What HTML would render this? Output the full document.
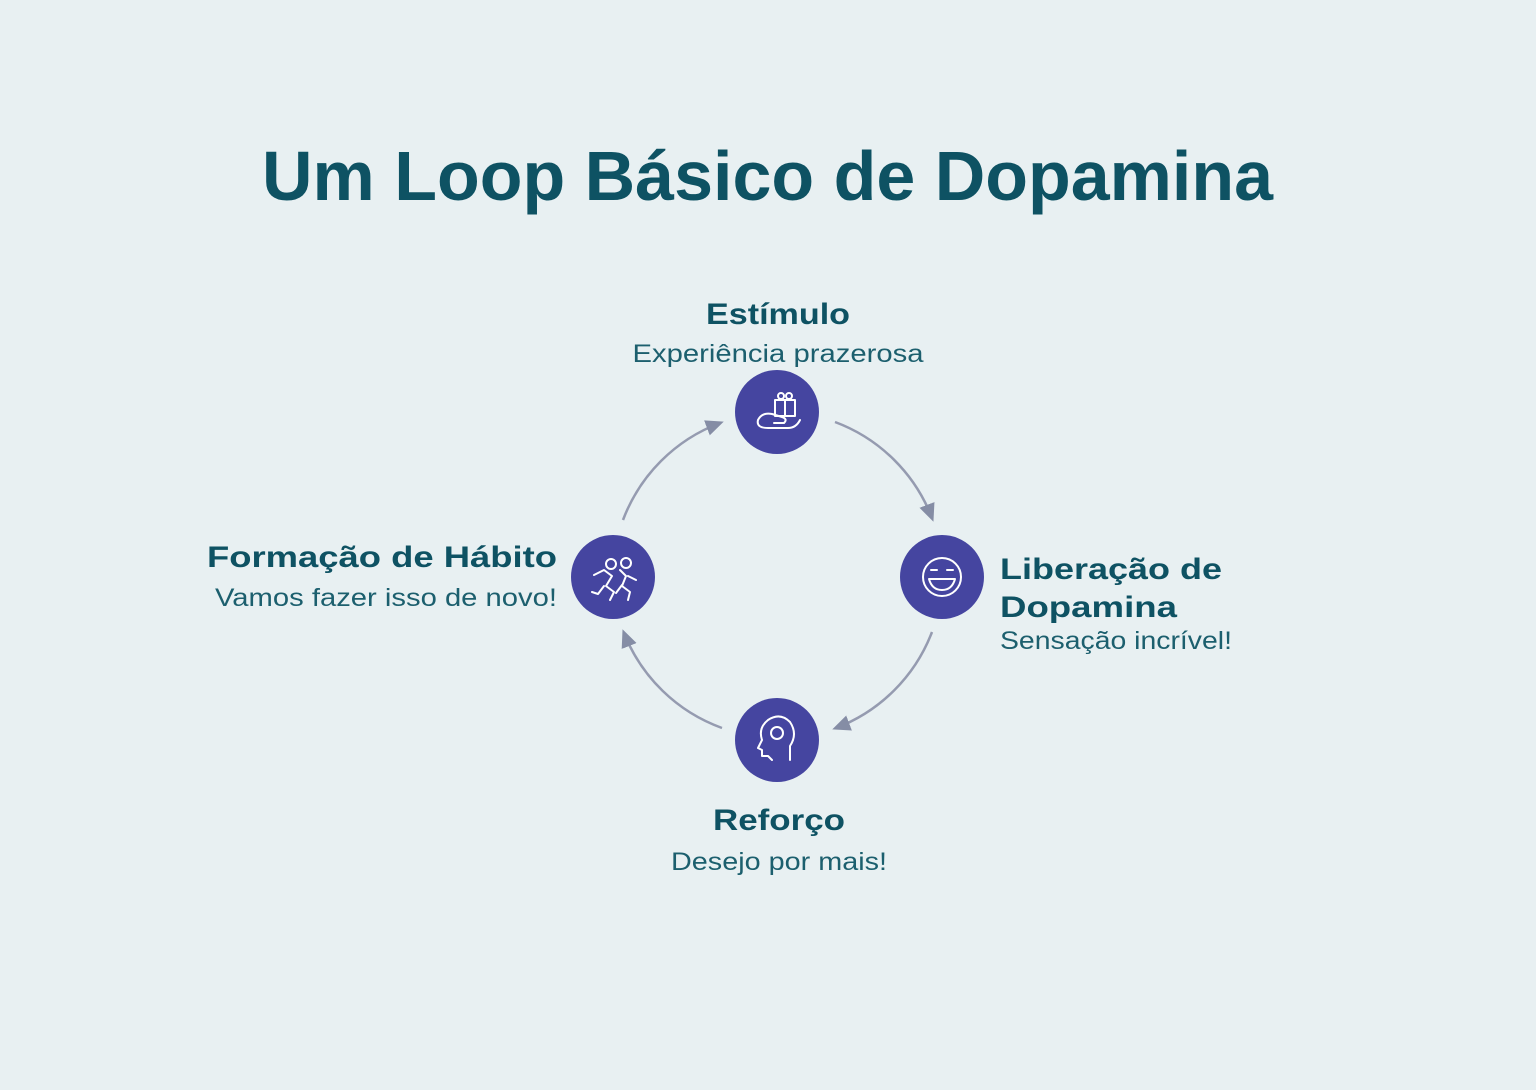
<!DOCTYPE html>
<html><head><meta charset="utf-8"><style>
html,body{margin:0;padding:0;background:#E8F0F2;}
svg{display:block}
text{font-family:"Liberation Sans",sans-serif;fill:#0E5263}
.b{font-weight:bold;font-size:30px}
.l{font-size:25px;fill:#1C5F6E}
</style></head><body>
<svg width="1536" height="1090" viewBox="0 0 1536 1090">
<rect width="1536" height="1090" fill="#E8F0F2"/>
<text x="262" y="200" font-size="70" font-weight="bold" textLength="1011" lengthAdjust="spacingAndGlyphs">Um Loop Básico de Dopamina</text>

<defs>
<marker id="h" markerWidth="18" markerHeight="16" refX="14" refY="8" orient="auto" markerUnits="userSpaceOnUse"><path d="M0,0 L18,8 L0,16 z" fill="#858DA5"/></marker></defs>
<g fill="none" stroke="#959BB0" stroke-width="2.5">
<path d="M835,422 A166,166 0 0 1 932,518" marker-end="url(#h)"/>
<path d="M932,632 A166,166 0 0 1 836,728" marker-end="url(#h)"/>
<path d="M722,728 A166,166 0 0 1 624,633" marker-end="url(#h)"/>
<path d="M623,520 A166,166 0 0 1 720,423" marker-end="url(#h)"/>
</g>

<g fill="#4545A0">
<circle cx="777" cy="412" r="42"/><circle cx="942" cy="577" r="42"/>
<circle cx="613" cy="577" r="42"/><circle cx="777" cy="740" r="42"/>
</g>
<g fill="none" stroke="#fff" stroke-width="2" stroke-linecap="round" stroke-linejoin="round">
<rect x="775" y="400" width="20" height="16"/><line x1="785" y1="400" x2="785" y2="416"/>
<circle cx="781" cy="396" r="3"/><circle cx="789" cy="396" r="3"/>
<path d="M758,420 q4,-8 14,-6 l10,3 q6,2 2,6 l-10,0 M758,420 q-2,8 10,8 l20,0 q8,0 12,-8"/>
<circle cx="942" cy="577" r="19"/>
<path d="M931,570 h6 M947,570 h6"/>
<path d="M929,579 h26 q-3,11 -13,11 q-10,0 -13,-11 z"/>
<circle cx="611" cy="564" r="5"/><circle cx="626" cy="563" r="5"/>
<path d="M594,575 l10,-5 l8,6 l-6,10 l8,6 l-4,8 M604,586 l-6,8 l-6,-2 M620,570 l6,6 l-4,10 l8,6 l-2,8 M622,585 l-6,8 M628,576 l8,4"/>
<path d="M790,760 v-14 q8,-12 0,-24 q-10,-10 -22,-2 q-10,8 -6,20 l-4,8 l4,2 v6 h6 l4,4"/>
<circle cx="777" cy="733" r="6"/>
</g>

<text class="b" x="778" y="324" text-anchor="middle" textLength="144" lengthAdjust="spacingAndGlyphs">Estímulo</text>
<text class="l" x="778" y="362" text-anchor="middle" textLength="291" lengthAdjust="spacingAndGlyphs">Experiência prazerosa</text>

<text class="b" x="557" y="567" text-anchor="end" textLength="350" lengthAdjust="spacingAndGlyphs">Formação de Hábito</text>
<text class="l" x="557" y="606" text-anchor="end" textLength="342" lengthAdjust="spacingAndGlyphs">Vamos fazer isso de novo!</text>

<text class="b" x="1000" y="579" textLength="222" lengthAdjust="spacingAndGlyphs">Liberação de</text>
<text class="b" x="1000" y="617" textLength="177" lengthAdjust="spacingAndGlyphs">Dopamina</text>
<text class="l" x="1000" y="649" textLength="232" lengthAdjust="spacingAndGlyphs">Sensação incrível!</text>

<text class="b" x="779" y="830" text-anchor="middle" textLength="132" lengthAdjust="spacingAndGlyphs">Reforço</text>
<text class="l" x="779" y="870" text-anchor="middle" textLength="216" lengthAdjust="spacingAndGlyphs">Desejo por mais!</text>
</svg>
</body></html>
